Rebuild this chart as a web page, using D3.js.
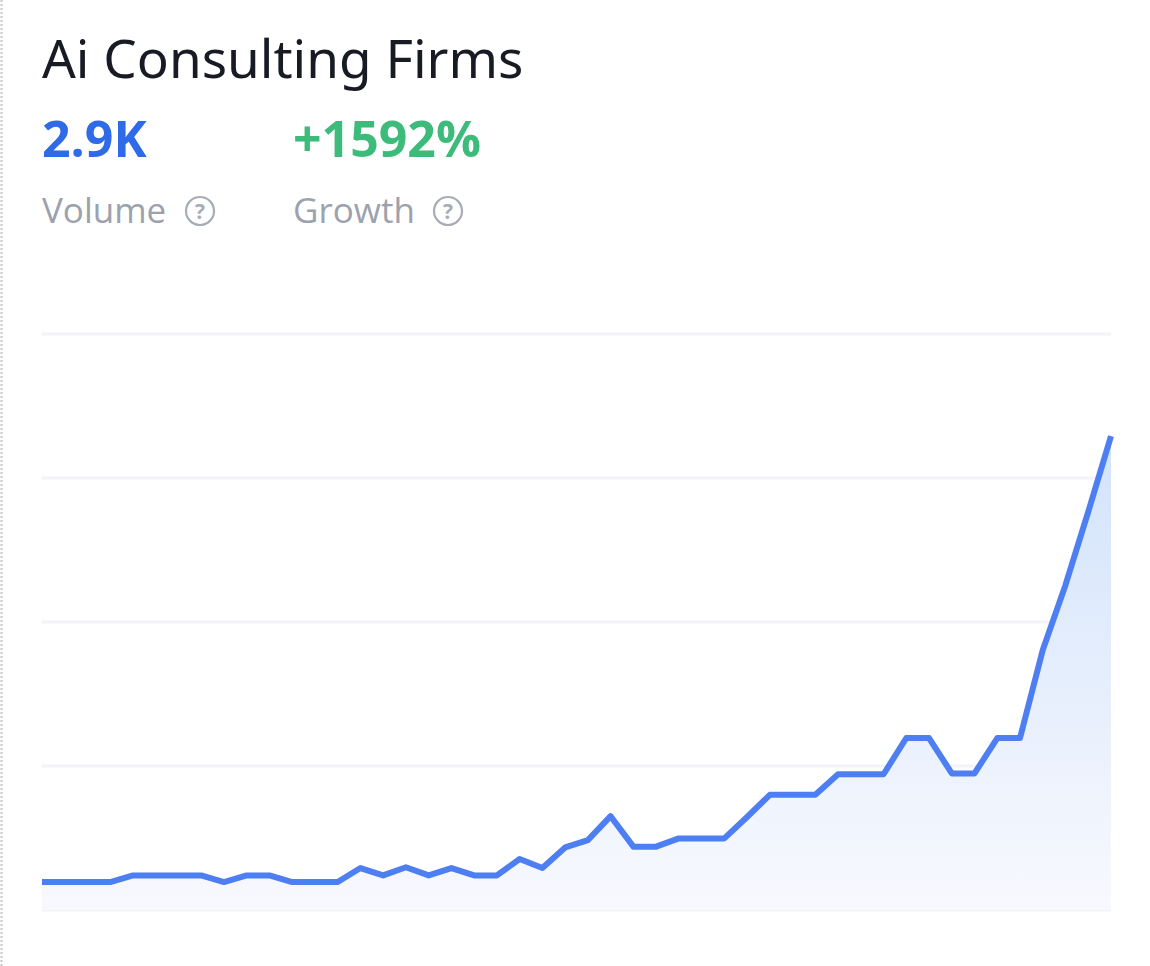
<!DOCTYPE html>
<html>
<head>
<meta charset="utf-8">
<script src="https://cdn.jsdelivr.net/npm/d3@7"></script>
<style>
  html, body { margin: 0; padding: 0; background: #ffffff; }
  svg { display: block; }
</style>
</head>
<body>
<svg id="chart" width="1150" height="966"></svg>
<script>
// ---- data ----
const title = "Ai Consulting Firms";
const volumeLabel = "2.9K";
const growthLabel = "+1592%";
const statCaptions = ["Volume", "Growth"];
const periods = d3.range(48); // monthly points, left to right
const volumes = [
  170, 170, 170, 170, 210, 210, 210, 210, 170, 210,
  210, 170, 170, 170, 255, 210, 260, 210, 255, 210,
  210, 310, 255, 380, 425, 570, 385, 385, 435, 435,
  435, 565, 700, 700, 700, 825, 825, 825, 1045, 1045,
  830, 830, 1045, 1045, 1580, 1975, 2420, 2880
];
const yTicks = [0, 875, 1750, 2625, 3500];

// ---- layout ----
const svg = d3.select("#chart");
const W = 1150, H = 966;
const plot = { left: 42, right: 1111, top: 334, bottom: 910 };

// dotted left border
svg.append("line")
  .attr("x1", 1.5).attr("x2", 1.5).attr("y1", 0).attr("y2", H)
  .attr("stroke", "#c8c8cc").attr("stroke-width", 2)
  .attr("stroke-dasharray", "2,2");

// header texts
svg.append("text").attr("x", 42).attr("y", 78)
  .attr("font-family", "'Noto Sans', 'Open Sans', sans-serif")
  .attr("font-size", 53).attr("fill", "#181b24")
  .text(title);

svg.append("text").attr("x", 42).attr("y", 157)
  .attr("font-family", "'Open Sans', sans-serif").attr("font-weight", 700)
  .attr("font-size", 50).attr("fill", "#2f6ae9")
  .text(volumeLabel);

svg.append("text").attr("x", 293).attr("y", 157)
  .attr("font-family", "'Open Sans', sans-serif").attr("font-weight", 700)
  .attr("font-size", 50).attr("fill", "#3dbb7b")
  .text(growthLabel);

const capX = [42, 293];
const iconX = [200, 448];
statCaptions.forEach((c, i) => {
  svg.append("text").attr("x", capX[i]).attr("y", 223)
    .attr("font-family", "'Open Sans', sans-serif")
    .attr("font-size", 35).attr("fill", "#9ca2ad")
    .text(c);
  const g = svg.append("g").attr("transform", `translate(${iconX[i]},211)`);
  g.append("circle").attr("r", 14).attr("fill", "none")
    .attr("stroke", "#a7acb6").attr("stroke-width", 2.2);
  g.append("text").attr("y", 7.5).attr("text-anchor", "middle")
    .attr("font-family", "'Open Sans', sans-serif").attr("font-weight", 700)
    .attr("font-size", 21).attr("fill", "#a7acb6").text("?");
});

// ---- scales ----
const x = d3.scaleLinear().domain(d3.extent(periods)).range([plot.left, plot.right]);
const y = d3.scaleLinear().domain([0, 3500]).range([plot.bottom, plot.top]);

// gridlines
svg.append("g").selectAll("line").data(yTicks).join("line")
  .attr("x1", plot.left).attr("x2", plot.right)
  .attr("y1", d => y(d)).attr("y2", d => y(d))
  .attr("stroke", "#f3f4f7").attr("stroke-width", 3);

// gradient
const defs = svg.append("defs");
const grad = defs.append("linearGradient").attr("id", "areaGrad")
  .attr("gradientUnits", "userSpaceOnUse")
  .attr("x1", 0).attr("x2", 0)
  .attr("y1", y(d3.max(volumes))).attr("y2", y(0));
grad.append("stop").attr("offset", "0%").attr("stop-color", "#d2e3fb");
grad.append("stop").attr("offset", "100%").attr("stop-color", "#f8f9fe");

const data = periods.map((p, i) => ({ p, v: volumes[i] }));

svg.append("path").datum(data)
  .attr("fill", "url(#areaGrad)")
  .attr("d", d3.area().x(d => x(d.p)).y0(y(0)).y1(d => y(d.v)));

svg.append("path").datum(data)
  .attr("fill", "none").attr("stroke", "#4d7ef2").attr("stroke-width", 6)
  .attr("stroke-linejoin", "round").attr("stroke-linecap", "butt")
  .attr("d", d3.line().x(d => x(d.p)).y(d => y(d.v)));
</script>
</body>
</html>
